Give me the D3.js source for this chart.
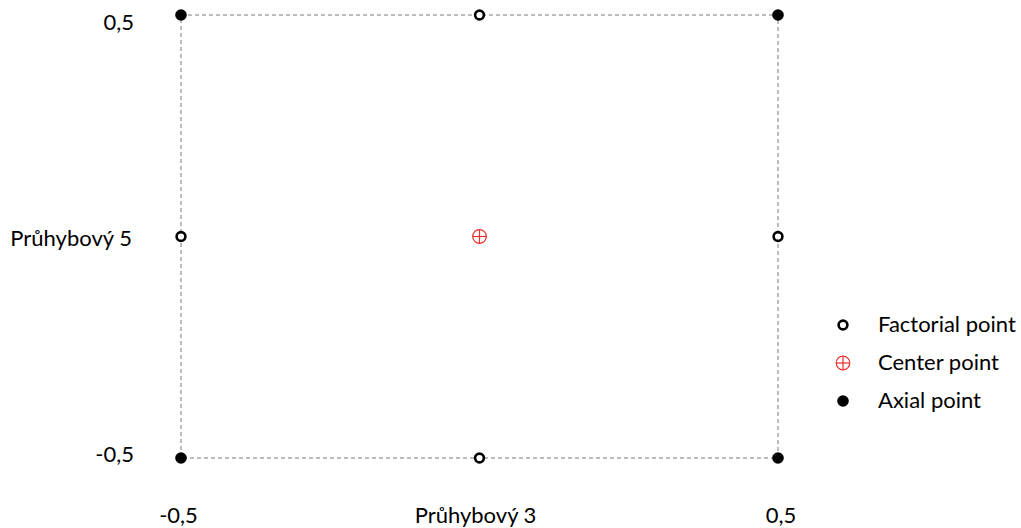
<!DOCTYPE html>
<html>
<head>
<meta charset="utf-8">
<script src="https://cdn.jsdelivr.net/npm/d3@7"></script>
<style>
  html, body { margin: 0; padding: 0; background: #fff; }
  svg text { font-family: Lato, "Open Sans", sans-serif; font-size: 22px; fill: #000; }
</style>
</head>
<body>
<svg id="chart" width="1021" height="528"></svg>
<script>
// Design points of the experiment (coded levels)
const factorialX = [0, -0.5, 0.5, 0];
const factorialY = [0.5, 0, 0, -0.5];
const centerX = [0];
const centerY = [0];
const axialX = [-0.5, 0.5, -0.5, 0.5];
const axialY = [0.5, 0.5, -0.5, -0.5];

const tickValues = [-0.5, 0.5];
const xTickLabels = ["-0,5", "0,5"];
const yTickLabels = ["-0,5", "0,5"];
const xTitle = "Průhybový 3";
const yTitle = "Průhybový 5";
const legendLabels = ["Factorial point", "Center point", "Axial point"];

const svg = d3.select("#chart");
const x = d3.scaleLinear().domain([-0.5, 0.5]).range([181, 778]);
const y = d3.scaleLinear().domain([-0.5, 0.5]).range([458, 15]);

// Dashed frame around the design space
svg.append("rect")
  .attr("x", x(-0.5)).attr("y", y(0.5))
  .attr("width", x(0.5) - x(-0.5)).attr("height", y(-0.5) - y(0.5))
  .attr("fill", "none").attr("stroke", "#7a7a7a")
  .attr("stroke-width", 1).attr("stroke-dasharray", "4,3");

// Tick labels on the left: the top one sits just below its row, the bottom one just above
const yLabelShift = [4, 15];
svg.selectAll("text.ytick").data(tickValues).enter().append("text")
  .attr("class", "ytick")
  .attr("x", 134).attr("y", (d, i) => y(d) + yLabelShift[i])
  .attr("text-anchor", "end")
  .text((d, i) => yTickLabels[i]);

// Tick labels along the bottom edge
const xLabelShift = [-2.5, 3];
svg.selectAll("text.xtick").data(tickValues).enter().append("text")
  .attr("class", "xtick")
  .attr("x", (d, i) => x(d) + xLabelShift[i])
  .attr("y", 523)
  .attr("text-anchor", "middle")
  .text((d, i) => xTickLabels[i]);

svg.append("text").attr("x", x(0) - 4).attr("y", 523)
  .attr("text-anchor", "middle").text(xTitle);
svg.append("text").attr("x", 132).attr("y", y(0) + 9)
  .attr("text-anchor", "end").text(yTitle);

// Marker drawing helpers
function openCircle(g, cx, cy) {
  g.append("circle").attr("cx", cx).attr("cy", cy).attr("r", 4.4)
    .attr("fill", "#fff").attr("stroke", "#000").attr("stroke-width", 2.6);
}
function filledCircle(g, cx, cy) {
  g.append("circle").attr("cx", cx).attr("cy", cy).attr("r", 5.8).attr("fill", "#000");
}
function centerMark(g, cx, cy) {
  const r = 6.8;
  g.append("circle").attr("cx", cx).attr("cy", cy).attr("r", r)
    .attr("fill", "none").attr("stroke", "#e8302f").attr("stroke-width", 1.2);
  g.append("line").attr("x1", cx - r).attr("x2", cx + r).attr("y1", cy).attr("y2", cy)
    .attr("stroke", "#e8302f").attr("stroke-width", 1.2);
  g.append("line").attr("x1", cx).attr("x2", cx).attr("y1", cy - r).attr("y2", cy + r)
    .attr("stroke", "#e8302f").attr("stroke-width", 1.2);
}

const marks = svg.append("g");
axialX.forEach((v, i) => filledCircle(marks, x(v), y(axialY[i])));
factorialX.forEach((v, i) => openCircle(marks, x(v), y(factorialY[i])));
centerX.forEach((v, i) => centerMark(marks, x(v), y(centerY[i])));

// Legend
const legend = svg.append("g");
const ly = [325, 363, 401];
openCircle(legend, 843, ly[0]);
centerMark(legend, 843, ly[1]);
filledCircle(legend, 843, ly[2]);
legendLabels.forEach((t, i) => {
  legend.append("text").attr("x", 878).attr("y", ly[i] + 7).text(t);
});
</script>
</body>
</html>
